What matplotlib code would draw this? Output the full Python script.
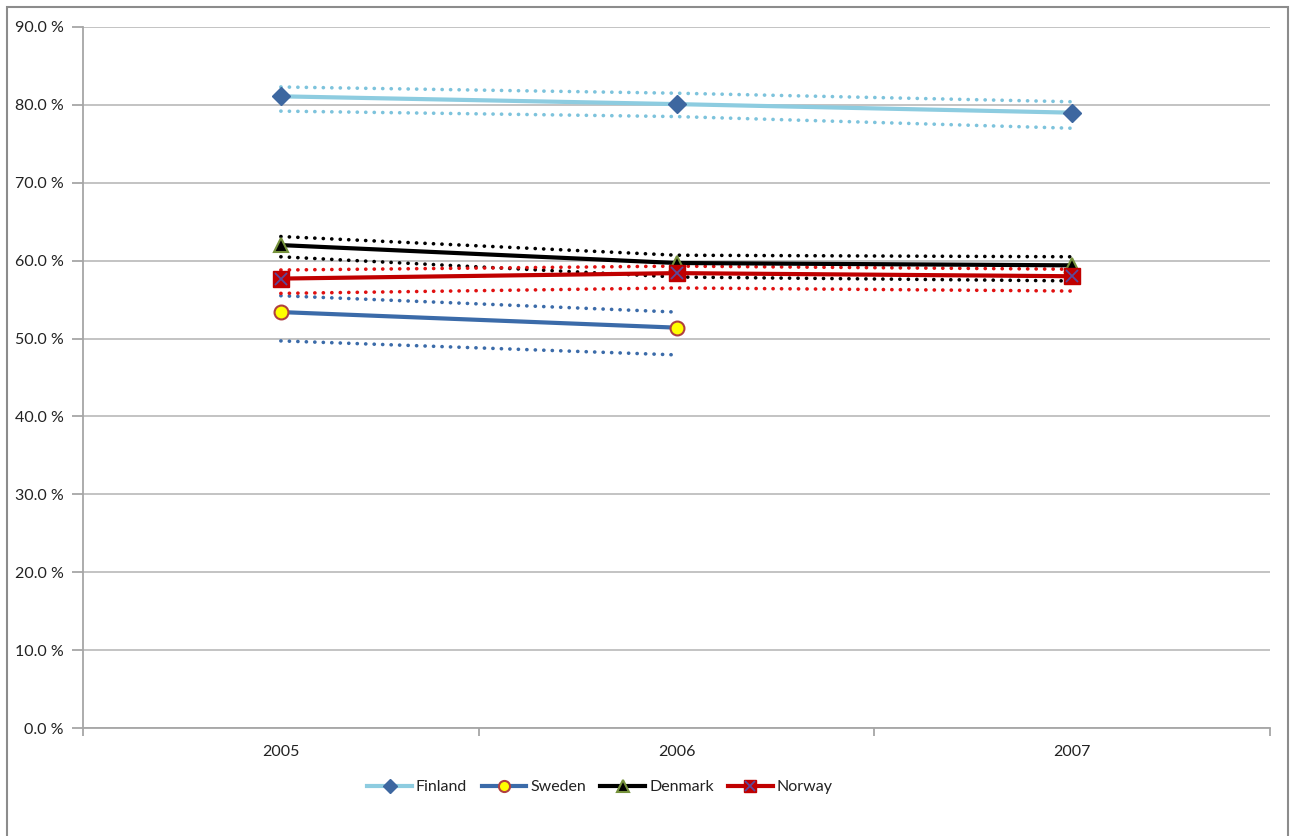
import matplotlib.pyplot as plt
from matplotlib.patches import Rectangle
from matplotlib.ticker import FuncFormatter

# =====================
# Data: share (%) per country with upper/lower bounds
# =====================
years = ["2005", "2006", "2007"]

finland = [81.1, 80.1, 79.0]
finland_hi = [82.3, 81.5, 80.4]
finland_lo = [79.2, 78.5, 77.0]

sweden = [53.4, 51.4]
sweden_hi = [55.5, 53.4]
sweden_lo = [49.7, 47.9]

denmark = [62.0, 59.7, 59.4]
denmark_hi = [63.1, 60.7, 60.5]
denmark_lo = [60.5, 57.9, 57.4]

norway = [57.7, 58.4, 58.0]
norway_hi = [58.8, 59.3, 58.9]
norway_lo = [55.8, 56.5, 56.1]

plt.rcParams['font.family'] = ['Lato', 'DejaVu Sans']

fig = plt.figure(figsize=(12.93, 8.36), dpi=100)
ax = fig.add_axes([83 / 1293, 1 - 728 / 836, (1270 - 83) / 1293, (728 - 27) / 836])

dot = dict(linestyle=(0, (0.05, 2.3)), linewidth=2.6, dash_capstyle='round')

x3 = range(len(years))
x2 = range(len(sweden))

# bounds (dotted)
ax.plot(x3, finland_hi, color='#7DC3DC', **dot, zorder=2)
ax.plot(x3, finland_lo, color='#7DC3DC', **dot, zorder=2)
ax.plot(x2, sweden_hi, color='#3B6BA9', **dot, zorder=2)
ax.plot(x2, sweden_lo, color='#3B6BA9', **dot, zorder=2)
ax.plot(x3, denmark_hi, color='black', **dot, zorder=2)
ax.plot(x3, denmark_lo, color='black', **dot, zorder=2)
ax.plot(x3, norway_hi, color='#E01010', **dot, zorder=2)
ax.plot(x3, norway_lo, color='#E01010', **dot, zorder=2)

# main series
h_fi, = ax.plot(x3, finland, color='#8DCCE0', linewidth=3, marker='D', markersize=9,
                markerfacecolor='#3D67A0', markeredgecolor='#3D67A0', zorder=4, label='Finland')
h_se, = ax.plot(x2, sweden, color='#3B6BA9', linewidth=3, marker='o', markersize=10,
                markerfacecolor='#FFFF00', markeredgecolor='#B04040', markeredgewidth=1.5,
                zorder=4, label='Sweden')
h_dk, = ax.plot(x3, denmark, color='black', linewidth=3, marker='^', markersize=10,
                markerfacecolor='black', markeredgecolor='#76923C', markeredgewidth=1.5,
                zorder=4, label='Denmark')
h_no, = ax.plot(x3, norway, color='#C00000', linewidth=3, marker='s', markersize=11,
                markerfacecolor='#C00000', markeredgecolor='#C00000', zorder=5, label='Norway')
h_nox, = ax.plot(x3, norway, linestyle='none', marker='x', markersize=9,
                 markeredgecolor='#5B4A9A', markeredgewidth=1.3, zorder=6)

ax.set_xlim(-0.5, 2.5)
ax.set_ylim(0, 90)
ax.set_yticks(range(0, 91, 10))
ax.yaxis.set_major_formatter(FuncFormatter(lambda v, p: f'{v:.1f} %'))
ax.set_xticks(list(x3))
ax.set_xticklabels(years)
ax.set_xticks([-0.5, 0.5, 1.5, 2.5], minor=True)

ax.grid(axis='y', color='#BEBEBE', linewidth=1.3, zorder=0)
ax.set_axisbelow(True)
for s in ['top', 'right']:
    ax.spines[s].set_visible(False)
for s in ['left', 'bottom']:
    ax.spines[s].set_color('#A6A6A6')
    ax.spines[s].set_linewidth(1.3)

ax.tick_params(axis='y', length=8, width=1.3, color='#A6A6A6', labelsize=11.5,
               labelcolor='#222222', pad=6)
ax.tick_params(axis='x', which='major', length=0, labelsize=11.5, labelcolor='#222222', pad=12)
ax.tick_params(axis='x', which='minor', length=6, width=1.3, color='#A6A6A6')

fig.legend([h_fi, h_se, h_dk, (h_no, h_nox)], ['Finland', 'Sweden', 'Denmark', 'Norway'],
           loc='center', bbox_to_anchor=(600 / 1293, 1 - 787 / 836), ncol=4, frameon=False,
           fontsize=11.5, handlelength=2.8, handletextpad=0.25, columnspacing=0.9,
           markerscale=0.8, labelcolor='#222222')

# outer frame
fig.patches.append(Rectangle((7 / 1293, -0.01), (1288 - 7) / 1293, 1.01 - 7 / 836,
                             transform=fig.transFigure, fill=False,
                             edgecolor='#8C8C8C', linewidth=1.5))

fig.savefig('out.png', dpi=100)
